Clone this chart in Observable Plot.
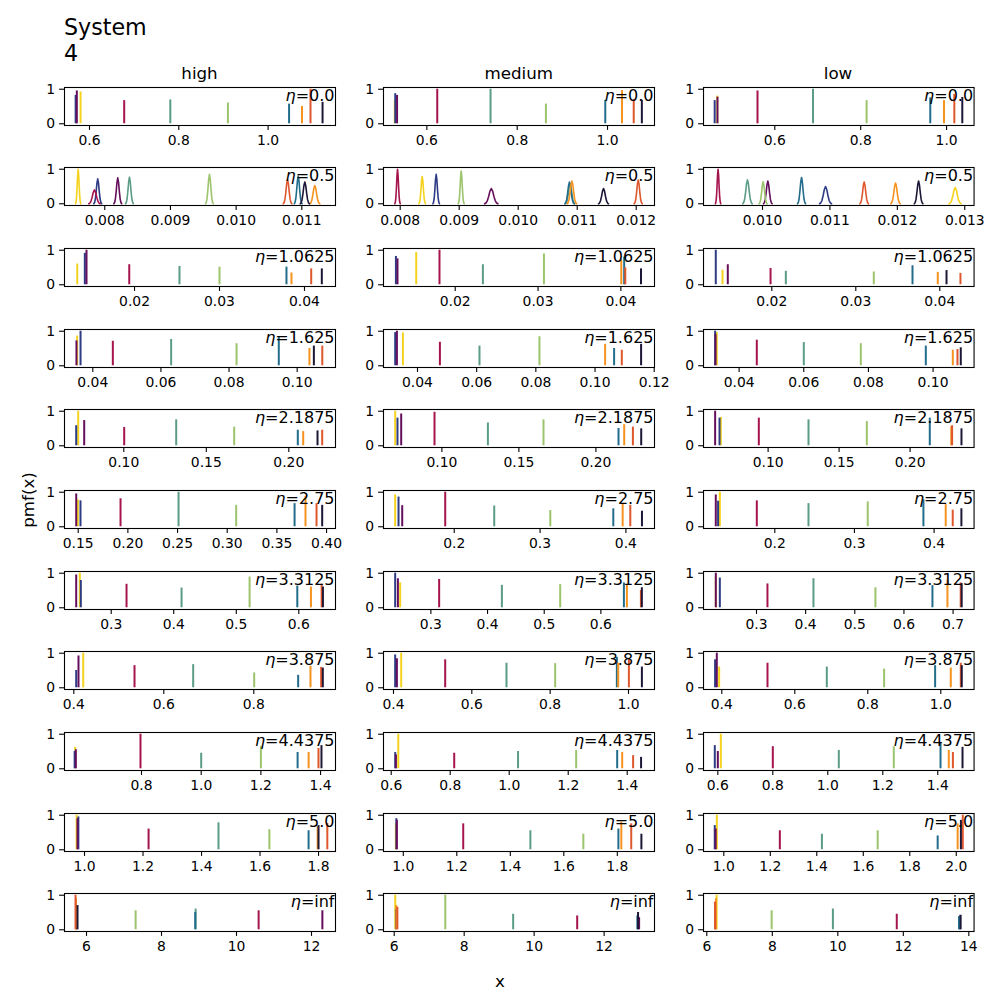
<!DOCTYPE html>
<html><head><meta charset="utf-8">
<script src="https://cdn.jsdelivr.net/npm/d3@7"></script>
<script src="https://cdn.jsdelivr.net/npm/@observablehq/plot@0.6"></script>
<style>
body{margin:0;background:#fff;font-family:"DejaVu Sans",sans-serif;}
#fig{position:relative;width:1000px;height:1000px;overflow:hidden;background:#fff;}
.abs{position:absolute;white-space:nowrap;color:#000;font-family:"DejaVu Sans",sans-serif;}
</style></head><body><div id="fig"></div>
<script>
// ---------------- data ----------------
const titleLines = ["System", "4"];
const columnNames = ["high", "medium", "low"];
const etaLabels = ["0.0","0.5","1.0625","1.625","2.1875","2.75","3.3125","3.875","4.4375","5.0","inf"];
const seriesNames = ["gold","navy","purple","crimson","tealGreen","lightGreen","tealBlue","orange","orangeRed","dark"];
const seriesColors = ["#f5d21e","#2d3c84","#650f5c","#a6144e","#5a9c84","#9cc46c","#226c8c","#f6921e","#df572c","#1e1636"];
const yLabel = "pmf(x)";
const xLabel = "x";

// peak template for the broad (eta = 0.5) pmfs
const bellOffsets = [-1,-0.8,-0.6,-0.4,-0.2,0,0.2,0.4,0.6,0.8,1];
const bellShape   = [0,0.05,0.19,0.48,0.83,1,0.83,0.48,0.19,0.05,0];

// x limits per row: [high, medium, low]
const xLimits = [
  [[0.544,1.151],[0.504,1.104],[0.434,1.064]],
  [[0.007387,0.011513],[0.007717,0.01231],[0.009125,0.013138]],
  [[0.01176,0.04365],[0.01134,0.04406],[0.01187,0.04408]],
  [[0.03169,0.11125],[0.02851,0.1201],[0.02899,0.11268]],
  [[0.06406,0.2283],[0.06208,0.23805],[0.0545,0.24507]],
  [[0.1362,0.409],[0.1176,0.4333],[0.1105,0.4502]],
  [[0.2253,0.6587],[0.2164,0.6946],[0.1922,0.7427]],
  [[0.3793,0.9816],[0.3745,1.0664],[0.3499,1.0912]],
  [[0.542,1.45],[0.5739,1.4925],[0.548,1.532]],
  [[0.9316,1.858],[0.926,1.939],[0.9127,2.0766]],
  [[5.413,12.64],[5.694,13.44],[5.9,14.16]]
];
const xTicks = [
  [[0.6,0.8,1.0],[0.6,0.8,1.0],[0.6,0.8,1.0]],
  [[0.008,0.009,0.010,0.011],[0.008,0.009,0.010,0.011,0.012],[0.010,0.011,0.012,0.013]],
  [[0.02,0.03,0.04],[0.02,0.03,0.04],[0.02,0.03,0.04]],
  [[0.04,0.06,0.08,0.10],[0.04,0.06,0.08,0.10,0.12],[0.04,0.06,0.08,0.10]],
  [[0.10,0.15,0.20],[0.10,0.15,0.20],[0.10,0.15,0.20]],
  [[0.15,0.20,0.25,0.30,0.35,0.40],[0.2,0.3,0.4],[0.2,0.3,0.4]],
  [[0.3,0.4,0.5,0.6],[0.3,0.4,0.5,0.6],[0.3,0.4,0.5,0.6,0.7]],
  [[0.4,0.6,0.8],[0.4,0.6,0.8,1.0],[0.4,0.6,0.8,1.0]],
  [[0.8,1.0,1.2,1.4],[0.6,0.8,1.0,1.2,1.4],[0.6,0.8,1.0,1.2,1.4]],
  [[1.0,1.2,1.4,1.6,1.8],[1.0,1.2,1.4,1.6,1.8],[1.0,1.2,1.4,1.6,1.8,2.0]],
  [[6,8,10,12],[6,8,10,12],[6,8,10,12,14]]
];
const tickDecimals = [
  [1,1,1],[3,3,3],[2,2,2],[2,2,2],[2,2,2],[2,1,1],[1,1,1],[1,1,1],[1,1,1],[1,1,1],[0,0,0]
];
const yTicks = [0, 1];

// peaks: per column [high, medium, low], per series [center, height(, half-width)]
const peaksEta0_0 = [
  [[0.580,0.92],[0.569,0.82],[0.5716,0.95],[0.6777,0.67],[0.781,0.69],[0.910,0.60],[1.047,0.57],[1.076,0.50],[1.095,1.00],[1.122,0.62]],
  [[0.529,0.67],[0.530,0.87],[0.534,0.82],[0.623,1.00],[0.741,1.00],[0.8636,0.57],[0.995,0.68],[1.032,0.96],[1.058,0.70],[1.076,0.68]],
  [[0.466,0.80],[0.460,0.67],[0.4665,0.77],[0.5597,0.95],[0.689,1.00],[0.8137,0.67],[0.962,0.75],[0.994,0.67],[1.018,0.85],[1.0366,0.76]]
];
const peaksEta0_5 = [
  [[0.007595,1.00,0.000041],[0.007893,0.72,0.00006],[0.008198,0.75,0.00006],[0.007843,0.40,0.000087],[0.008376,0.77,0.00006],[0.009594,0.85,0.00006],[0.010945,0.80,0.00006],[0.011198,0.53,0.000076],[0.010783,0.70,0.000065],[0.011046,0.63,0.00007]],
  [[0.008373,0.79,0.000056],[0.008610,0.85,0.000056],[0.009544,0.44,0.000113],[0.007955,1.00,0.000046],[0.010880,0.58,0.00008],[0.009034,0.95,0.00005],[0.010869,0.63,0.00008],[0.010910,0.66,0.00008],[0.012034,0.69,0.000068],[0.011446,0.44,0.000085]],
  [[0.012858,0.47,0.000089],[0.010935,0.50,0.000089],[0.010079,0.66,0.000064],[0.009341,1.00,0.00004],[0.009777,0.69,0.00007],[0.010009,0.64,0.00006],[0.010579,0.76,0.00006],[0.011973,0.60,0.00007],[0.011508,0.63,0.000064],[0.012315,0.66,0.000064]]
];
const peaksEta1_0625 = [
  [[0.01326,0.60],[0.01415,0.91],[0.01435,1.00],[0.01938,0.58],[0.02529,0.53],[0.0300,0.51],[0.03788,0.51],[0.03847,0.34],[0.04079,0.46],[0.04204,0.46]],
  [[0.01529,0.93],[0.01284,0.82],[0.01303,0.75],[0.01810,1.00],[0.02334,0.58],[0.03071,0.89],[0.0404,0.80],[0.04005,0.72],[0.04053,0.49],[0.04243,0.46]],
  [[0.01413,0.42],[0.01333,1.00],[0.01476,0.58],[0.01985,0.47],[0.02167,0.39],[0.03214,0.37],[0.03675,0.55],[0.03976,0.36],[0.04246,0.33],[0.0408,0.41]]
];
const peaksEta1_625 = [
  [[0.0354,0.86],[0.0364,1.00],[0.0352,0.72],[0.04588,0.71],[0.0630,0.76],[0.0822,0.64],[0.0946,0.84],[0.1036,0.50],[0.10737,0.57],[0.1049,0.57]],
  [[0.03507,0.95],[0.03247,0.96],[0.03304,1.00],[0.04757,0.68],[0.06095,0.57],[0.08122,0.84],[0.10645,0.50],[0.10341,0.62],[0.10905,0.45],[0.11557,0.62]],
  [[0.0331,0.96],[0.03258,1.00],[0.0327,0.90],[0.04547,0.74],[0.06001,0.67],[0.07764,0.64],[0.09775,0.57],[0.1061,0.45],[0.10755,0.47],[0.10857,0.52]]
];
const peaksEta2_1875 = [
  [[0.07236,1.00],[0.07115,0.58],[0.0760,0.73],[0.10024,0.53],[0.13176,0.75],[0.16691,0.54],[0.20545,0.45],[0.20873,0.41],[0.22024,0.45],[0.2174,0.43]],
  [[0.06968,1.00],[0.07117,0.80],[0.07357,0.92],[0.0952,0.97],[0.12987,0.66],[0.16597,0.75],[0.21468,0.50],[0.21838,0.61],[0.22403,0.54],[0.22942,0.49]],
  [[0.06669,0.82],[0.06577,0.80],[0.06268,1.00],[0.09345,0.80],[0.12845,0.75],[0.16951,0.70],[0.21387,0.80],[0.2290,0.55],[0.2296,0.58],[0.2362,0.49]]
];
const peaksEta2_75 = [
  [[0.1496,0.78],[0.1523,0.75],[0.1480,0.95],[0.1926,0.81],[0.2510,1.00],[0.3090,0.62],[0.3678,0.67],[0.3788,0.88],[0.3899,0.67],[0.3956,0.62]],
  [[0.1312,0.92],[0.1351,0.86],[0.1394,0.61],[0.1895,1.00],[0.2466,0.60],[0.3119,0.47],[0.3853,0.52],[0.3962,0.67],[0.4051,0.62],[0.4187,0.45]],
  [[0.1310,1.00],[0.1288,0.74],[0.1259,0.92],[0.1774,0.75],[0.2423,0.67],[0.3167,0.72],[0.3866,0.78],[0.4146,0.64],[0.4234,0.48],[0.4343,0.52]]
];
const peaksEta3_3125 = [
  [[0.2498,1.00],[0.2514,0.79],[0.2440,0.95],[0.3245,0.68],[0.4125,0.57],[0.5213,0.89],[0.5976,0.63],[0.6194,0.60],[0.6365,0.68],[0.6386,0.60]],
  [[0.2458,0.72],[0.2370,1.00],[0.2418,0.84],[0.3146,0.82],[0.4253,0.65],[0.5282,0.67],[0.6406,0.72],[0.6459,0.65],[0.6706,0.50],[0.6723,0.58]],
  [[0.2172,0.90],[0.2254,0.86],[0.2172,1.00],[0.3223,0.69],[0.4159,0.84],[0.5420,0.58],[0.6580,0.64],[0.6885,0.80],[0.7155,0.72],[0.7175,0.70]]
];
const peaksEta3_875 = [
  [[0.4209,1.00],[0.4053,0.50],[0.4104,0.92],[0.5349,0.64],[0.6653,0.67],[0.8009,0.43],[0.8986,0.36],[0.9260,0.62],[0.9497,0.59],[0.9534,0.57]],
  [[0.4197,1.00],[0.4043,0.95],[0.4087,0.84],[0.5320,0.81],[0.6885,0.71],[0.8128,0.70],[0.9703,0.88],[0.9737,0.71],[1.0010,0.81],[1.0342,0.60]],
  [[0.3927,0.60],[0.3816,0.81],[0.3863,1.00],[0.5252,0.71],[0.6877,0.60],[0.8447,0.54],[0.9845,0.64],[1.0274,0.57],[1.0548,0.71],[1.0575,0.64]]
];
const peaksEta4_4375 = [
  [[0.578,0.62],[0.576,0.50],[0.580,0.55],[0.7966,1.00],[1.000,0.45],[1.200,0.65],[1.323,0.47],[1.360,0.47],[1.393,0.59],[1.403,0.67]],
  [[0.624,1.00],[0.6136,0.47],[0.616,0.40],[0.8136,0.45],[1.030,0.50],[1.227,0.53],[1.366,0.53],[1.383,0.47],[1.420,0.38],[1.447,0.33]],
  [[0.611,1.00],[0.589,0.67],[0.600,0.50],[0.800,0.64],[1.040,0.53],[1.240,0.64],[1.410,0.76],[1.440,0.53],[1.455,0.47],[1.490,0.62]]
];
const peaksEta5_0 = [
  [[0.973,1.00],[0.979,0.95],[0.976,0.90],[1.219,0.60],[1.458,0.78],[1.632,0.58],[1.766,0.55],[1.797,0.67],[1.830,0.76],[1.800,0.70]],
  [[0.972,0.75],[0.974,0.90],[0.976,0.85],[1.224,0.75],[1.475,0.55],[1.673,0.45],[1.804,0.60],[1.815,0.80],[1.852,0.75],[1.890,0.45]],
  [[0.970,1.00],[0.961,0.70],[0.965,0.60],[1.241,0.55],[1.422,0.45],[1.662,0.55],[1.920,0.40],[2.006,0.75],[2.028,1.00],[2.020,0.85]]
];
const peaksEtaInf = [
  [[5.72,0.85],[5.74,0.60],[12.29,0.55],[10.59,0.55],[8.91,0.60],[7.31,0.55],[8.90,0.50],[5.72,0.90],[5.707,1.00],[5.76,0.70]],
  [[6.03,1.00],[6.05,0.60],[13.00,0.35],[11.23,0.40],[9.40,0.45],[7.46,1.00],[12.95,0.40],[6.06,0.70],[6.09,0.65],[12.97,0.50]],
  [[6.30,1.00],[6.27,0.70],[13.73,0.40],[11.80,0.45],[9.85,0.60],[7.98,0.55],[13.70,0.38],[6.28,0.90],[6.25,0.80],[13.75,0.42]]
];
const peakRows = [peaksEta0_0, peaksEta0_5, peaksEta1_0625, peaksEta1_625, peaksEta2_1875,
  peaksEta2_75, peaksEta3_3125, peaksEta3_875, peaksEta4_4375, peaksEta5_0, peaksEtaInf];

// ---------------- layout ----------------
const fig = document.getElementById("fig");
const frameLefts = [64, 383.3, 702.7];
const frameWidths = [271, 271, 270.6];
const firstTop = 86.8, rowStep = 80.65, frameH = 38;
const ML = 45, MR = 12, MT = 12, MB = 30;
const tickFontSize = 13.9;

function addDiv(text, css) {
  const d = document.createElement("div");
  d.className = "abs";
  d.textContent = text;
  Object.assign(d.style, css);
  fig.appendChild(d);
  return d;
}

// title
titleLines.forEach((t, i) => addDiv(t, {left: "64px", top: (13.5 + i * 26.3) + "px", fontSize: "22.2px", lineHeight: "26.6px"}));
// column titles
columnNames.forEach((t, c) => addDiv(t, {
  left: (frameLefts[c] + frameWidths[c] / 2) + "px", top: "62.9px", fontSize: "16.7px", lineHeight: "20px",
  transform: "translateX(-50%)"
}));
// axis labels
addDiv(yLabel, {left: "28px", top: "500px", fontSize: "16.7px", lineHeight: "20px", transform: "translate(-50%,-50%) rotate(-90deg)"});
addDiv(xLabel, {left: "500px", top: "970.8px", fontSize: "16.7px", lineHeight: "20px", transform: "translateX(-50%)"});

for (let r = 0; r < peakRows.length; r++) {
  for (let c = 0; c < 3; c++) {
    const peaks = peakRows[r][c];
    const fw = frameWidths[c];
    const dec = tickDecimals[r][c];
    const marks = [];
    const broad = peaks[0].length > 2;
    if (broad) {
      const pts = [];
      peaks.forEach((p, i) => {
        bellOffsets.forEach((o, k) => pts.push({s: seriesNames[i], col: seriesColors[i], x: p[0] + o * p[2], y: p[1] * bellShape[k]}));
      });
      marks.push(Plot.line(pts, {x: "x", y: "y", z: "s", stroke: "col", strokeWidth: 1.6, curve: "linear"}));
    } else {
      const rows = peaks.map((p, i) => ({s: seriesNames[i], col: seriesColors[i], x: p[0], h: p[1]}));
      marks.push(Plot.ruleX(rows, {x: "x", y1: 0, y2: "h", stroke: "col", strokeWidth: 2}));
    }
    marks.push(Plot.frame({stroke: "black", strokeWidth: 1.1}));
    marks.push(Plot.axisX({ticks: xTicks[r][c], tickFormat: d => d.toFixed(dec), tickSize: 4.9, tickPadding: 4.3,
      fontSize: tickFontSize, label: null, strokeWidth: 1.1}));
    marks.push(Plot.axisY({ticks: yTicks, tickFormat: d => String(d), tickSize: 4.9, tickPadding: 4.5,
      fontSize: tickFontSize, label: null, strokeWidth: 1.1}));
    marks.push(Plot.text(["η=" + etaLabels[r]], {
      frameAnchor: "top-right", text: d => d, textAnchor: "end", lineAnchor: "top",
      dx: -1, dy: 2.5, fontSize: 16, fill: "black"
    }));
    const svg = Plot.plot({
      width: fw + ML + MR, height: frameH + MT + MB,
      marginLeft: ML, marginRight: MR, marginTop: MT, marginBottom: MB,
      x: {domain: xLimits[r][c]},
      y: {domain: [-0.05, 1.05]},
      color: {type: "identity"},
      style: {fontFamily: "DejaVu Sans, sans-serif", fontSize: tickFontSize + "px", color: "black", background: "transparent", overflow: "visible"},
      marks
    });
    // italic eta as in mathtext
    d3.select(svg).selectAll('g[aria-label="text"] text').each(function () {
      const t = d3.select(this);
      const s = t.text();
      if (s.startsWith("η")) {
        t.text(null);
        t.append("tspan").attr("font-style", "italic").text("η");
        t.append("tspan").text(s.slice(1));
      }
    });
    svg.style.position = "absolute";
    svg.style.left = (frameLefts[c] - ML) + "px";
    svg.style.top = (firstTop + r * rowStep - MT) + "px";
    fig.appendChild(svg);
  }
}
</script></body></html>
